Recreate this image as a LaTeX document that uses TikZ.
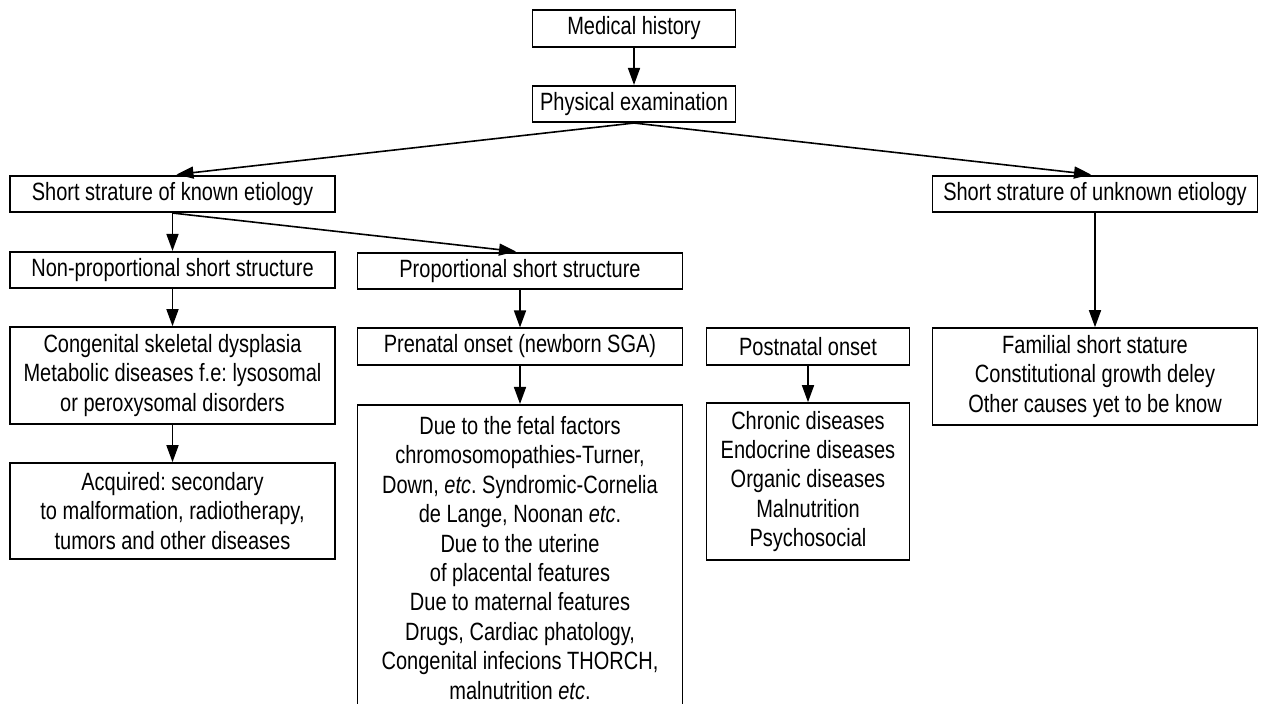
\documentclass[tikz,border=0pt]{standalone}
\usepackage{fontspec}
\setmainfont{Liberation Sans}[FakeStretch=0.8]
\usepackage{tikz}
\usetikzlibrary{arrows.meta, positioning}
\frenchspacing
\tikzset{
  stepbox/.style={draw=black,line width=0.8pt,inner sep=0pt,align=center,
    font=\fontsize{12.5}{14.7}\selectfont},
  widebox/.style={stepbox,minimum width=162.5pt,minimum height=18.25pt},
  narrowbox/.style={stepbox,minimum width=101.5pt,minimum height=18.25pt},
  tallbox/.style={widebox,minimum height=48.5pt},
  flow/.style={-{Triangle[length=8.5pt,width=6pt]},line width=0.8pt,black},
  flowd/.style={flow,shorten >=2pt},
}
\begin{document}
\begin{tikzpicture}[x=0.5pt,y=-0.5pt]
	\useasboundingbox (0,0) rectangle (1263,704);
	\clip (0,0) rectangle (1263,704);
	% top of the chart
	\node[narrowbox] (history) at (634,28.5) {Medical history};
	\node[narrowbox] (exam) at (634,104) {Physical examination};
	\node[widebox] (known) at (172.5,194) {Short strature of known etiology};
	\node[widebox] (unknown) at (1095,194) {Short strature of unknown etiology};
	% known etiology
	\node[widebox] (nonprop) at (172.5,270) {Non-proportional short structure};
	\node[widebox] (prop) at (520,271) {Proportional short structure};
	\node[tallbox] (skeletal) at (172.5,375.5)
		{Congenital skeletal dysplasia\\Metabolic diseases f.e: lysosomal\\or peroxysomal disorders};
	\node[tallbox,minimum height=48pt] (acquired) at (172.5,511)
		{Acquired: secondary\\to malformation, radiotherapy,\\tumors and other diseases};
	\node[widebox] (prenatal) at (520,346.5) {Prenatal onset (newborn SGA)};
	\node[widebox,minimum height=153pt,anchor=north] (fetal) at (520,404)
		{Due to the fetal factors\\chromosomopathies-Turner,\\Down, \textit{etc}. Syndromic-Cornelia\\de Lange, Noonan \textit{etc}.\\Due to the uterine\\of placental features\\Due to maternal features\\Drugs, Cardiac phatology,\\Congenital infecions THORCH,\\malnutrition \textit{etc}.};
	\node[narrowbox] (postnatal) at (808,346.5) {Postnatal onset};
	\node[narrowbox,minimum height=78.5pt] (chronic) at (808,481.5)
		{Chronic diseases\\Endocrine diseases\\Organic diseases\\Malnutrition\\Psychosocial};
	% unknown etiology
	\node[tallbox] (familial) at (1095,376.5)
		{Familial short stature\\Constitutional growth deley\\Other causes yet to be know};
	% connectors
	\draw[flow] (history) -- (exam);
	\draw[flowd] (exam.south) -- (known.north);
	\draw[flowd] (exam.south) -- (unknown.north);
	\draw[flow] (known.south) -- (nonprop.north);
	\draw[flowd] (known.south) -- (prop.north);
	\draw[flow] (nonprop) -- (skeletal);
	\draw[flow] (skeletal) -- (acquired);
	\draw[flow] (prop) -- (prenatal);
	\draw[flow] (prenatal) -- (fetal);
	\draw[flow] (postnatal) -- (chronic);
	\draw[flow] (unknown) -- (familial);
\end{tikzpicture}
\end{document}
